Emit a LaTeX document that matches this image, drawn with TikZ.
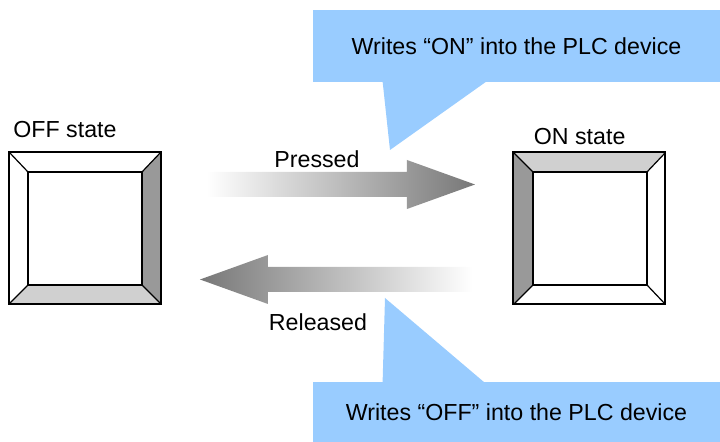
\documentclass[tikz,border=0pt]{standalone}
\usepackage{fontspec}
\setmainfont{Liberation Sans}
\usepackage{xcolor}
\usetikzlibrary{positioning,calc}

\definecolor{noteblue}{HTML}{99CCFF}
\definecolor{darkface}{HTML}{999999}
\definecolor{lightface}{HTML}{D0D0D0}
\definecolor{arrowgray}{HTML}{777777}

\begin{document}
\begin{tikzpicture}[
    x=0.5pt, y=-0.5pt,
    font=\fontsize{11.6}{13}\selectfont,
    keybox/.style={minimum size=76pt, inner sep=0pt, outer sep=0pt},
    keyhole/.style={minimum width=57pt, minimum height=56.5pt, inner sep=0pt, outer sep=0pt},
    keyline/.style={line width=1pt},
    bevel/.style={line width=0.6pt},
    lbl/.style={inner sep=0pt},
    notebox/.style={fill=noteblue, minimum width=203.5pt, minimum height=36pt, inner sep=0pt},
    flow/.style={left color=white, right color=arrowgray},
    backflow/.style={left color=arrowgray, right color=white}
  ]
  \useasboundingbox (0,0) rectangle (720,442);

  % buttons
  \node[keybox] (off) at (85,228) {};
  \node[keyhole] (offin) at (85,228.5) {};
  \node[keybox] (on) at (589.5,228.5) {};
  \node[keyhole] (onin) at (590,228.5) {};

  % OFF: shadow on right and bottom
  \fill[darkface] (off.north east) -- (off.south east) -- (offin.south east) -- (offin.north east) -- cycle;
  \fill[lightface] (off.south west) -- (off.south east) -- (offin.south east) -- (offin.south west) -- cycle;
  % ON: shadow on left and top
  \fill[darkface] (on.north west) -- (on.south west) -- (onin.south west) -- (onin.north west) -- cycle;
  \fill[lightface] (on.north west) -- (on.north east) -- (onin.north east) -- (onin.north west) -- cycle;

  \foreach \k in {off,on} {
    \foreach \c in {north west,north east,south west,south east}
      \draw[bevel] (\k.\c) -- (\k in.\c);
    \draw[bevel] (\k in.north west) rectangle (\k in.south east);
    \draw[keyline] (\k.north west) rectangle (\k.south east);
  }

  \node[lbl, above right=7pt and 2pt of off.north west] (offlbl) {OFF state};
  \node[lbl, above right=3.5pt and 10pt of on.north west] (onlbl) {ON state};

  % arrows
  \shade[flow] (207,172) -- (407,172) -- (407,160) -- (475,184.5) -- (407,209) -- (407,197) -- (207,197) -- cycle;
  \shade[backflow] (200,279.5) -- (268,255) -- (268,267) -- (472,267) -- (472,292) -- (268,292) -- (268,304) -- cycle;
  \node[lbl] (press) at (317,159) {Pressed};
  \node[lbl] (release) at (318,322) {Released};

  % notes
  \node[notebox] (onnote) at (516.5,46) {Writes “ON” into the PLC device};
  \fill[noteblue] ($(onnote.south west)+(70,-1)$) -- (390,150) -- ($(onnote.south west)+(174,-1)$) -- cycle;
  \node[notebox, minimum height=30pt] (offnote) at (516.5,412) {Writes “OFF” into the PLC device};
  \fill[noteblue] ($(offnote.north west)+(70,1)$) -- (385,298) -- ($(offnote.north west)+(172,1)$) -- cycle;
\end{tikzpicture}
\end{document}
